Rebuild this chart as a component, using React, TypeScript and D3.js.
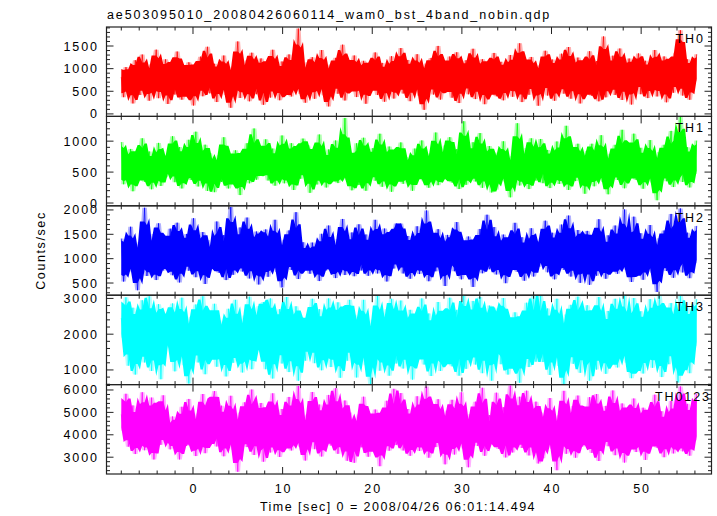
import React from 'react';
import * as d3 from 'd3';

const TITLE = 'ae503095010_20080426060114_wam0_bst_4band_nobin.qdp';
const X_LABEL = 'Time [sec] 0 = 2008/04/26 06:01:14.494';
const Y_LABEL = 'Counts/sec';

const T_START = -8.0;
const T_END = 56.2;
const X_DOMAIN: [number, number] = [-9.65, 57.85];
const X_MAJOR = [0, 10, 20, 30, 40, 50];
const X_MINOR_STEP = 2;

const th0 = [
  812, 370, 1034, 689, 921, 232, 1187, 760, 418, 1312, 655, 874, 293, 1096, 731, 1420, 348, 947, 682, 1205,
  220, 826, 1061, 427, 1378, 712, 315, 998, 475, 1140, 823, 186, 1022, 701, 1265, 390, 897, 1483, 454, 780,
  1108, 262, 953, 710, 1290, 416, 841, 135, 1047, 768, 1601, 353, 916, 670, 1184, 278, 1352, 739, 435, 982,
  1226, 201, 864, 1075, 360, 1417, 695, 910, 302, 1158, 788, 464, 1315, 386, 1002, 727, 1886, 441, 845, 248,
  1139, 695, 1254, 333, 977, 760, 1411, 412, 869, 166, 1093, 724, 1238, 445, 903, 1530, 297, 812, 1046, 678,
  1291, 372, 934, 719, 1172, 225, 1068, 801, 652, 1359, 417, 921, 1127, 270, 858, 733, 1276, 339, 1004, 664,
  1455, 450, 889, 1193, 282, 976, 748, 1320, 401, 843, 90, 1115, 702, 1237, 428, 918, 1502, 316, 785, 1053,
  667, 1268, 359, 941, 1362, 240, 1025, 757, 1186, 433, 872, 1439, 327, 960, 728, 1210, 215, 1088, 815, 470,
  1347, 390, 990, 1150, 300, 898, 706, 1302, 378, 1036, 680, 1560, 261, 868, 1121, 423, 1258, 744, 913, 182,
  1074, 822, 1395, 406, 947, 1202, 291, 1012, 690, 1331, 448, 854, 1478, 337, 975, 742, 1244, 232, 1096, 781,
  459, 1385, 399, 933, 1166, 278, 880, 1712, 366, 1019, 704, 1287, 420, 867, 1445, 308, 994, 761, 1223, 207,
  1052, 836, 1336, 436, 906, 1174, 349, 962, 735, 1412, 387, 1040, 684, 1271, 256, 893, 1139, 468, 1352, 790,
  1848, 404, 927, 1206, 312, 1003, 719, 1318,
];

const th1 = [
  985, 303, 662, 466, 874, 190, 777, 541, 396, 1046, 344, 650, 833, 222, 589, 481, 972, 276, 722, 415,
  780, 561, 1080, 337, 668, 905, 236, 733, 447, 1022, 371, 590, 1153, 268, 700, 494, 943, 196, 806, 518,
  176, 568, 771, 340, 1064, 485, 236, 720, 398, 852, 547, 128, 742, 455, 967, 318, 621, 1205, 377, 530,
  768, 575, 1029, 365, 634, 880, 281, 690, 483, 1092, 318, 754, 437, 968, 210, 622, 849, 392, 1041, 529,
  933, 164, 602, 785, 300, 1108, 452, 640, 251, 866, 530, 385, 1011, 322, 714, 478, 1375, 369, 585, 205,
  420, 966, 290, 673, 1055, 199, 742, 503, 887, 361, 604, 1120, 262, 688, 476, 913, 182, 794, 553, 393,
  980, 310, 745, 466, 612, 198, 880, 431, 574, 1012, 352, 689, 247, 803, 498, 1140, 289, 655, 412, 931,
  381, 1065, 331, 661, 871, 226, 611, 1322, 294, 737, 455, 982, 349, 597, 1130, 245, 715, 505, 921, 170,
  816, 214, 684, 471, 998, 349, 590, 92, 760, 503, 1290, 284, 647, 430, 890, 225, 1046, 488, 362, 701,
  1035, 321, 710, 858, 241, 627, 462, 995, 309, 747, 428, 1248, 212, 600, 826, 354, 958, 490, 645, 150,
  842, 447, 958, 270, 690, 505, 1097, 341, 608, 141, 797, 472, 940, 373, 634, 1183, 238, 548, 761, 433,
  1121, 374, 618, 892, 231, 695, 492, 1017, 330, 580, 45, 824, 458, 941, 352, 649, 1166, 258, 526, 769,
  1398, 340, 651, 902, 252, 727, 470, 1009,
];

const th2 = [
  1412, 530, 1204, 897, 1655, 722, 1062, 352, 1335, 970, 2045, 645, 1160, 832, 1508, 561, 1725, 936, 758, 1247,
  836, 1616, 660, 1193, 1738, 512, 1306, 955, 1508, 752, 1103, 1830, 620, 1214, 923, 1545, 480, 1381, 1032, 801,
  787, 1763, 710, 1186, 1484, 560, 1117, 2060, 668, 1294, 889, 1641, 736, 1100, 1843, 594, 1266, 960, 1558, 470,
  1452, 875, 1600, 628, 1241, 960, 1798, 727, 1101, 410, 1389, 915, 1580, 769, 1142, 1955, 582, 1023, 1337, 850,
  1040, 690, 1330, 872, 1125, 540, 1510, 955, 760, 1680, 815, 1090, 601, 1402, 930, 1815, 664, 1190, 860, 1538,
  640, 1060, 1705, 757, 1152, 1496, 648, 1225, 925, 1797, 697, 1322, 856, 1618, 532, 1130, 1446, 798, 1722, 998,
  1720, 697, 1258, 1466, 587, 1140, 885, 1664, 684, 1318, 852, 1990, 537, 1096, 1423, 740, 1606, 939, 1155, 438,
  1488, 1032, 1365, 742, 1750, 912, 575, 1260, 803, 1455, 1046, 420, 1298, 885, 1610, 700, 1130, 1902, 783, 985,
  1648, 676, 1182, 905, 1494, 497, 1354, 1012, 815, 1735, 732, 1166, 1440, 548, 1082, 922, 1625, 633, 1276, 831,
  1366, 1045, 1780, 719, 1201, 1532, 575, 1284, 868, 1700, 772, 1084, 1884, 632, 1235, 934, 1587, 503, 1392, 990,
  1570, 462, 1096, 1370, 650, 1810, 881, 1151, 587, 1478, 1002, 792, 1680, 690, 1275, 917, 2010, 766, 1068, 521,
  1862, 777, 1121, 1521, 566, 1237, 941, 1690, 713, 1065, 318, 1420, 887, 1577, 746, 1160, 1918, 607, 990, 1343,
  2030, 718, 1175, 1534, 600, 1276, 904, 1672,
];

const th3 = [
  2450, 1900, 3030, 1120, 2170, 2740, 870, 2300, 1610, 2950, 1210, 1960, 3060, 970, 2230, 1710, 2840, 740, 2500, 1800,
  2600, 1620, 2860, 960, 2230, 1760, 3020, 1130, 2000, 620, 2490, 1690, 2830, 1210, 2060, 3060, 880, 1870, 2400, 1580,
  2850, 1090, 2390, 1620, 2080, 820, 2710, 1760, 1200, 2960, 1530, 1990, 930, 2520, 1700, 3050, 1020, 2160, 1590, 2780,
  1550, 2900, 1020, 2160, 3000, 760, 2350, 1750, 2700, 1180, 2000, 3040, 940, 2200, 1700, 2780, 700, 2480, 1880, 1260,
  2420, 1920, 2990, 1190, 2080, 2700, 990, 2210, 1700, 3000, 1080, 2370, 1590, 2890, 780, 2040, 2600, 1260, 2960, 1810,
  2540, 790, 2190, 1670, 2960, 1130, 1930, 600, 2400, 1780, 3070, 980, 2110, 1550, 2700, 840, 2990, 1720, 1180, 2250,
  2940, 1040, 2130, 1660, 2680, 730, 2420, 1840, 1510, 3000, 1150, 2100, 2580, 830, 1960, 1710, 2900, 970, 2290, 1540,
  1240, 3020, 1100, 2140, 2680, 840, 2010, 3090, 1030, 2330, 1640, 2930, 1150, 1980, 3040, 910, 2280, 1770, 2800, 700,
  2740, 1880, 2470, 1160, 3010, 1660, 870, 2270, 1270, 2610, 1910, 640, 2330, 1640, 2880, 1080, 2050, 3080, 1230, 1800,
  3070, 1220, 2020, 2720, 860, 2220, 1730, 2990, 1110, 1920, 560, 2550, 1640, 2820, 1170, 2090, 3050, 920, 1800, 2420,
  2810, 700, 2000, 2460, 1010, 3040, 1630, 2080, 890, 2650, 1830, 1250, 2990, 1070, 2300, 1700, 3085, 1200, 1940, 770,
  3010, 1080, 2260, 2640, 900, 2060, 1630, 2980, 1060, 2370, 1580, 3080, 800, 1970, 2560, 1160, 2870, 1720, 2080, 650,
  3080, 1120, 2120, 2750, 910, 2290, 1660, 2980,
];

const th0123 = [
  4910, 4180, 5830, 3470, 4460, 5310, 3140, 4590, 3810, 5900, 3310, 4780, 3610, 5660, 2900, 4390, 5090, 3550, 5760, 4090,
  4100, 3350, 4820, 3720, 4460, 2900, 5250, 3980, 3500, 5600, 3640, 4310, 3050, 4950, 3870, 5820, 3180, 4550, 3760, 5330,
  5950, 3480, 4360, 5300, 3040, 4620, 3920, 5740, 3330, 4210, 2350, 5000, 3760, 5450, 3450, 4380, 6020, 3100, 4060, 4860,
  5420, 2800, 4290, 4950, 3210, 5850, 3770, 4480, 3010, 5150, 4080, 3530, 5690, 3300, 4720, 3890, 6180, 3460, 4250, 2850,
  4900, 4120, 5910, 3360, 4570, 5350, 3030, 4710, 3720, 5780, 3520, 4280, 6080, 3150, 4630, 3880, 5530, 2840, 4990, 4030,
  2750, 4180, 4900, 3440, 5700, 3910, 3020, 4670, 3580, 5130, 4250, 2600, 4760, 3800, 5520, 3290, 4400, 6050, 3540, 4020,
  5860, 3300, 4650, 5150, 3060, 4420, 3700, 5720, 3280, 4800, 3660, 6150, 2980, 4250, 5060, 3450, 5590, 3900, 4490, 2680,
  5080, 3740, 5560, 3120, 4610, 3950, 5900, 3390, 4330, 2550, 4930, 3860, 5480, 3500, 4400, 6100, 3060, 4150, 4880, 3640,
  3560, 5880, 3370, 4500, 5230, 2990, 4330, 6200, 3210, 4740, 3780, 5700, 3410, 4280, 5970, 3080, 4690, 3970, 5480, 2720,
  4990, 2950, 4510, 3850, 5640, 3380, 4230, 2420, 4870, 3990, 5960, 3150, 4470, 3690, 5280, 2980, 5750, 3930, 3480, 4640,
  3620, 5680, 3190, 4540, 5820, 2830, 4760, 3960, 5290, 3490, 4300, 5980, 3090, 4580, 3830, 5400, 2760, 4940, 4110, 3510,
  5620, 3230, 4560, 3800, 5210, 2880, 4970, 4060, 3570, 5790, 3420, 4440, 5050, 3000, 4290, 3880, 5510, 3170, 4680, 3590,
  6160, 3260, 4520, 5380, 3070, 4700, 3740, 5840,
];

const PANEL_NAMES = ['TH0', 'TH1', 'TH2', 'TH3', 'TH0123'];
const PANEL_SERIES = [th0, th1, th2, th3, th0123];
const PANEL_COLORS = ['#ff0000', '#00ff00', '#0000ff', '#00ffff', '#ff00ff'];
const Y_DOMAINS: [number, number][] = [
  [-55, 1920],
  [-45, 1400],
  [250, 2085],
  [590, 3090],
  [2250, 6240],
];
const Y_MAJOR = [
  [0, 500, 1000, 1500],
  [0, 500, 1000],
  [500, 1000, 1500, 2000],
  [1000, 2000, 3000],
  [3000, 4000, 5000, 6000],
];
const Y_MINOR_STEP = [100, 100, 100, 200, 200];

const W = 717;
const H = 516;
const LEFT = 106.5;
const RIGHT = 711.5;
const TOP = 27;
const BOTTOM = 474;
const FONT = '"Liberation Sans", Arial, Helvetica, sans-serif';
const LS = 1.9;
const AXIS = '#222';
const LABEL_END = [703, 703, 703, 703, 709];

function windowStats(vals: number[], k: number, half: number, qLo: number, qHi: number) {
  const w = vals.slice(Math.max(0, k - half), Math.min(vals.length, k + half + 1)).sort(d3.ascending);
  return [d3.quantile(w, qLo) as number, d3.quantile(w, qHi) as number];
}

export default function App() {
  const x = d3.scaleLinear().domain(X_DOMAIN).range([LEFT, RIGHT]);
  const panelH = (BOTTOM - TOP) / PANEL_NAMES.length;
  const xMinor = d3.range(-8, 57, X_MINOR_STEP).filter((t) => !X_MAJOR.includes(t));

  return (
    <svg
      width={W}
      height={H}
      style={{ position: 'absolute', left: 0, top: 0, background: '#fff' }}
      fontFamily={FONT}
    >
      <rect x={0} y={0} width={W} height={H} fill="#fff" />
      <text x={107} y={19} fontSize={12.5} letterSpacing={LS} fill="#000">
        {TITLE}
      </text>
      {PANEL_NAMES.map((name, i) => {
        const y0 = TOP + i * panelH;
        const y1 = y0 + panelH;
        const y = d3.scaleLinear().domain(Y_DOMAINS[i]).range([y1, y0]);
        const vals = PANEL_SERIES[i];
        const dt = (T_END - T_START) / (vals.length - 1);
        const tx = (k: number) => x(T_START + k * dt);
        const line = d3
          .line<number>()
          .x((_, k) => tx(k))
          .y((v) => y(v));
        const idx = d3.range(vals.length);
        const fringe = idx.map((k) => windowStats(vals, k, 1, 0, 1));
        const core = idx.map((k) => windowStats(vals, k, 2, 0.1, 0.9));
        const area = d3
          .area<number[]>()
          .x((_, k) => tx(k))
          .y0((d) => y(d[0]))
          .y1((d) => y(d[1]));
        const [lo, hi] = Y_DOMAINS[i];
        const minor = d3
          .range(Math.ceil(lo / Y_MINOR_STEP[i]) * Y_MINOR_STEP[i], hi, Y_MINOR_STEP[i])
          .filter((v) => !Y_MAJOR[i].includes(v));
        const clipId = `clip-${i}`;
        const color = PANEL_COLORS[i];
        return (
          <g key={name}>
            <defs>
              <clipPath id={clipId}>
                <rect x={LEFT} y={y0} width={RIGHT - LEFT} height={panelH} />
              </clipPath>
            </defs>
            <g clipPath={`url(#${clipId})`}>
              <path d={area(fringe) || ''} fill={color} fillOpacity={0.3} stroke="none" />
              <path d={line(vals) || ''} fill="none" stroke={color} strokeWidth={1} strokeOpacity={0.75} />
              <path d={area(core) || ''} fill={color} stroke="none" />
            </g>
            <rect
              x={LEFT}
              y={y0}
              width={RIGHT - LEFT}
              height={panelH}
              fill="none"
              stroke={AXIS}
              strokeWidth={1.2}
            />
            {X_MAJOR.map((t) => (
              <g key={`xm${t}`} stroke={AXIS} strokeWidth={1}>
                <line x1={x(t)} x2={x(t)} y1={y1} y2={y1 - 7} />
                <line x1={x(t)} x2={x(t)} y1={y0} y2={y0 + 7} />
              </g>
            ))}
            {xMinor.map((t) => (
              <g key={`xn${t}`} stroke={AXIS} strokeWidth={1}>
                <line x1={x(t)} x2={x(t)} y1={y1} y2={y1 - 3.5} />
                <line x1={x(t)} x2={x(t)} y1={y0} y2={y0 + 3.5} />
              </g>
            ))}
            {Y_MAJOR[i].map((v) => (
              <g key={`ym${v}`}>
                <line x1={LEFT} x2={LEFT + 7} y1={y(v)} y2={y(v)} stroke={AXIS} />
                <line x1={RIGHT} x2={RIGHT - 7} y1={y(v)} y2={y(v)} stroke={AXIS} />
                <text
                  x={97 + LS}
                  y={y(v)}
                  dy="0.36em"
                  textAnchor="end"
                  fontSize={12.5}
                  letterSpacing={LS}
                  fill="#000"
                >
                  {v}
                </text>
              </g>
            ))}
            {minor.map((v) => (
              <g key={`yn${v}`} stroke={AXIS}>
                <line x1={LEFT} x2={LEFT + 3.5} y1={y(v)} y2={y(v)} />
                <line x1={RIGHT} x2={RIGHT - 3.5} y1={y(v)} y2={y(v)} />
              </g>
            ))}
            <text
              x={LABEL_END[i] + LS}
              y={y0 + 16}
              textAnchor="end"
              fontSize={12.5}
              letterSpacing={LS}
              fill="#000"
            >
              {name}
            </text>
          </g>
        );
      })}
      {X_MAJOR.map((t) => (
        <text
          key={`xl${t}`}
          x={x(t) + LS / 2}
          y={493}
          textAnchor="middle"
          fontSize={12.5}
          letterSpacing={LS}
          fill="#000"
        >
          {t}
        </text>
      ))}
      <text x={260} y={511} fontSize={12.5} letterSpacing={1.45} fill="#000">
        {X_LABEL}
      </text>
      <text
        transform={`translate(45, ${(TOP + BOTTOM) / 2}) rotate(-90)`}
        textAnchor="middle"
        fontSize={12.5}
        letterSpacing={1.6}
        fill="#000"
      >
        {Y_LABEL}
      </text>
    </svg>
  );
}
